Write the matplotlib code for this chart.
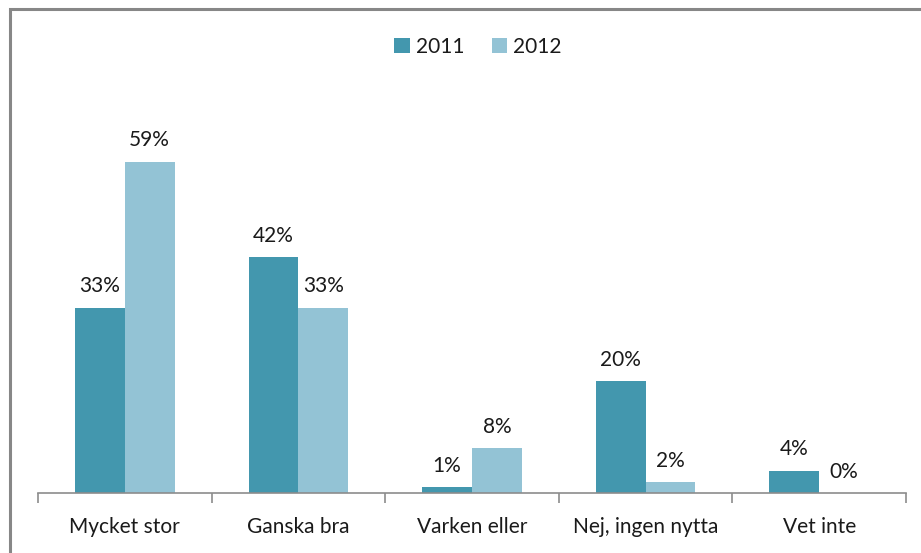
import numpy as np
import matplotlib
matplotlib.use("Agg")
import matplotlib.pyplot as plt
from matplotlib.patches import Rectangle

# Data
kategorier = ["Mycket stor", "Ganska bra", "Varken eller", "Nej, ingen nytta", "Vet inte"]
v2011 = [33, 42, 1, 20, 4]
v2012 = [59, 33, 8, 2, 0]
serier = ["2011", "2012"]

FARG_2011 = "#4397ae"
FARG_2012 = "#93c3d5"

plt.rcParams['font.family'] = ['Lato', 'DejaVu Sans']

W, H = 921, 553
fig = plt.figure(figsize=(W / 100, H / 100), dpi=100)
fig.patch.set_facecolor("white")

# grey frame (cut off at right and bottom like the original)
fig.add_artist(Rectangle((10 / W, -0.05), 1.2, 1 - 9 / H + 0.05, transform=fig.transFigure,
                         fill=False, edgecolor="#878787", linewidth=2.2))

ax = fig.add_axes([38 / W, 60 / H, (906 - 38) / W, (493 - 125) / H])
x = np.arange(len(kategorier))
b = 0.287
r1 = ax.bar(x - b / 2, v2011, b, color=FARG_2011, label=serier[0])
r2 = ax.bar(x + b / 2, v2012, b, color=FARG_2012, label=serier[1])

for rects, vals in ((r1, v2011), (r2, v2012)):
    for r, v in zip(rects, vals):
        ax.annotate(f"{v}%", (r.get_x() + r.get_width() / 2, v), xytext=(0, 8),
                    textcoords="offset points", ha="center", va="bottom",
                    fontsize=15, color="#1a1a1a")

ax.set_xlim(-0.5, len(kategorier) - 0.5)
ax.set_ylim(0, 65.5)
ax.set_yticks([])
for s in ("top", "right", "left"):
    ax.spines[s].set_visible(False)
ax.spines["bottom"].set_color("#8c8c8c")
ax.spines["bottom"].set_linewidth(1.2)

ax.set_xticks(np.arange(len(kategorier) + 1) - 0.5, minor=False)
ax.set_xticklabels([])
ax.tick_params(axis="x", which="major", length=7, color="#8c8c8c", width=1.2)
ax.set_xticks(x, minor=True)
ax.set_xticklabels(kategorier, minor=True, fontsize=15, color="#1a1a1a")
ax.tick_params(axis="x", which="minor", length=0, pad=17)

leg = fig.legend(loc="center", bbox_to_anchor=(478 / W, 1 - 47 / H), ncol=2, frameon=False,
                 fontsize=15, handlelength=0.75, handleheight=0.75, handletextpad=0.3,
                 columnspacing=1.3)
for t in leg.get_texts():
    t.set_color("#1a1a1a")

fig.savefig("out.png", dpi=100, facecolor="white")
